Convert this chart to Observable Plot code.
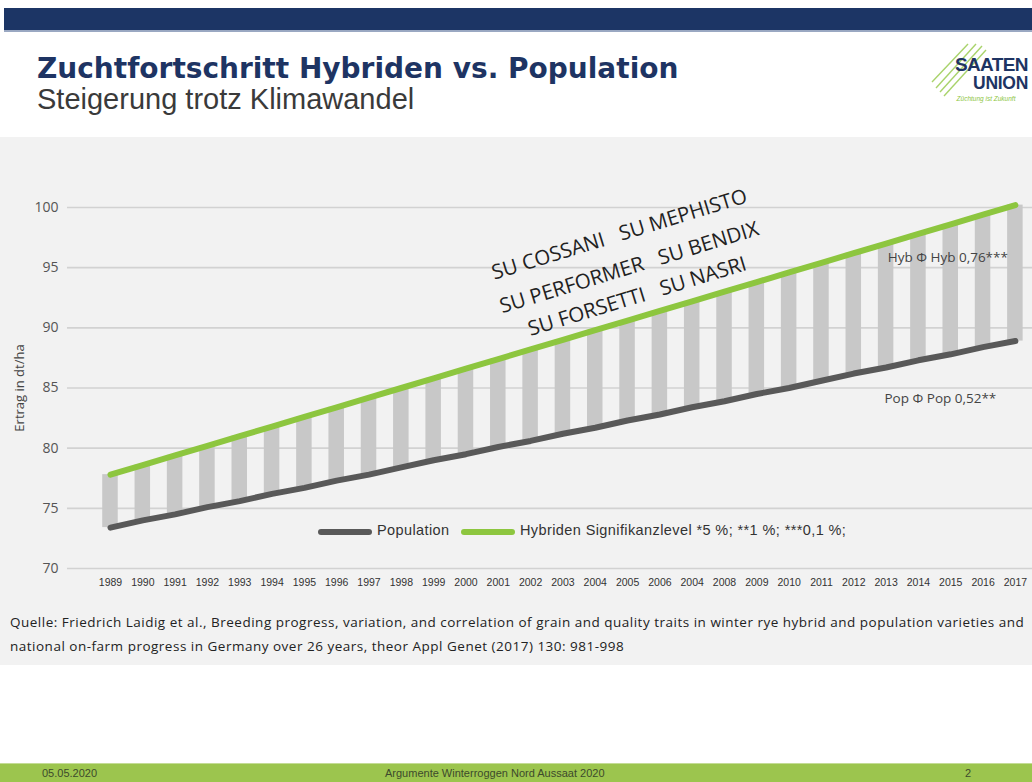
<!DOCTYPE html>
<html><head><meta charset="utf-8">
<script src="https://cdn.jsdelivr.net/npm/d3@7"></script>
<script src="https://cdn.jsdelivr.net/npm/@observablehq/plot@0.6"></script>
<style>
html,body{margin:0;padding:0;}
body{width:1032px;height:782px;position:relative;overflow:hidden;background:#fff;font-family:"Liberation Sans",Arial,sans-serif;}
#topbar{position:absolute;left:4px;top:8px;width:1028px;height:22px;background:#1c3565;border-bottom:2px solid #9aa8c2;}
#title{position:absolute;left:37px;top:54px;font-family:"DejaVu Sans",sans-serif;font-weight:bold;font-size:28px;line-height:29px;color:#1e3463;white-space:nowrap;}
#subtitle{position:absolute;left:37px;top:85px;font-size:29px;line-height:29px;color:#3a3a3a;white-space:nowrap;}
#panel{position:absolute;left:0;top:137px;width:1032px;height:528px;background:#f2f2f2;}
#chart{position:absolute;left:0;top:140px;}
#legend{position:absolute;top:521px;left:318px;height:20px;font-family:"Liberation Sans",sans-serif;font-size:14.5px;letter-spacing:0.4px;color:#333;white-space:nowrap;}
#legend span{position:absolute;top:1px;}
#legend i{position:absolute;top:8px;width:54px;height:6px;border-radius:3px;}
#caption{position:absolute;left:10px;top:610px;font-family:"Open Sans",Lato,sans-serif;font-size:13.5px;letter-spacing:0.5px;color:#222;line-height:24px;white-space:nowrap;}
#footer{position:absolute;left:0;top:763px;width:1032px;height:19px;background:#9cc54e;border-top:1px solid #c4dc95;font-family:"Liberation Sans Narrow","Liberation Sans",sans-serif;font-size:11px;color:#3d4a2c;}
#footer span{position:absolute;top:3px;}
#logo{position:absolute;left:930px;top:38px;width:100px;height:70px;}
</style></head>
<body>
<div id="topbar"></div>
<div id="title">Zuchtfortschritt Hybriden vs. Population</div>
<div id="subtitle">Steigerung trotz Klimawandel</div>
<svg id="logo" viewBox="0 0 100 70" width="100" height="70">
  <g stroke="#a9d36b" stroke-width="1.4">
    <line x1="6" y1="50" x2="46" y2="6"/><line x1="10" y1="54" x2="52" y2="8"/>
    <line x1="14" y1="58" x2="56" y2="12"/><line x1="2" y1="44" x2="38" y2="6"/>
  </g>
  <text x="98" y="33" text-anchor="end" font-family="Liberation Sans" font-weight="bold" font-size="19" fill="#1e3463" letter-spacing="-0.6">SAATEN</text>
  <text x="98" y="51" text-anchor="end" font-family="Liberation Sans" font-weight="bold" font-size="17.5" fill="#1e3463" letter-spacing="-0.3">UNION</text>
  <text x="56" y="63" text-anchor="middle" font-family="Liberation Sans" font-style="italic" font-size="6.5" fill="#8dc63f">Züchtung ist Zukunft</text>
</svg>
<div id="panel"></div>
<div id="chart"></div>
<div id="legend">
  <i style="left:0;background:#595959"></i><span style="left:59px">Population</span>
  <i style="left:143px;background:#8dc63f"></i><span style="left:202px">Hybriden Signifikanzlevel *5 %; **1 %; ***0,1 %;</span>
</div>
<div id="caption">Quelle: Friedrich Laidig et al., Breeding progress, variation, and correlation of grain and quality traits in winter rye hybrid and population varieties and<br>national on-farm progress in Germany over 26 years, theor Appl Genet (2017) 130: 981-998</div>
<div id="footer"><span style="left:42px">05.05.2020</span><span style="left:385px">Argumente Winterroggen Nord Aussaat 2020</span><span style="left:965px">2</span></div>
<script>
const years = [1989,1990,1991,1992,1993,1994,1995,1996,1997,1998,1999,2000,2001,2002,2003,2004,2005,2006,2007,2008,2009,2010,2011,2012,2013,2014,2015,2016,2017];
const tickLabels = ["1989","1990","1991","1992","1993","1994","1995","1996","1997","1998","1999","2000","2001","2002","2003","2004","2005","2006","2004","2008","2009","2010","2011","2012","2013","2014","2015","2016","2017"];
const hybrid = [77.8,78.6,79.4,80.2,81.0,81.8,82.6,83.4,84.2,85.0,85.8,86.6,87.4,88.2,89.0,89.8,90.6,91.4,92.2,93.0,93.8,94.6,95.4,96.2,97.0,97.8,98.6,99.4,100.2];
const population = [73.4,74.0,74.5,75.1,75.6,76.2,76.7,77.3,77.8,78.4,79.0,79.5,80.1,80.6,81.2,81.7,82.3,82.8,83.4,83.9,84.5,85.0,85.6,86.2,86.7,87.3,87.8,88.4,88.9];
const yTicks = [70,75,80,85,90,95,100];
const cultivars = ["SU COSSANI\u00a0\u00a0\u00a0SU MEPHISTO","SU PERFORMER\u00a0\u00a0\u00a0SU BENDIX","SU FORSETTI\u00a0\u00a0\u00a0SU NASRI"];
const cultivarX = [2004.75,2005.05,2005.3];
const cultivarY = [97.75,95.0,92.6];
const notes = ["Hyb \u03a6 Hyb 0,76***","Pop \u03a6 Pop 0,52**"];
const noteX = [2013.05,2012.95];
const noteY = [95.8,84.1];

const data = years.map((year,i)=>({year, hyb:hybrid[i], pop:population[i]}));
const tickText = d => tickLabels[years.indexOf(d)];

const chart = Plot.plot({
  width:1032, height:458,
  marginLeft:67, marginRight:0, marginTop:67, marginBottom:30,
  style:{background:"transparent", fontFamily:"'Open Sans', sans-serif", overflow:"visible"},
  x:{type:"linear", domain:[1987.67,2017.53]},
  y:{domain:[70,100]},
  marks:[
    Plot.gridY(yTicks,{stroke:"#d2d2d2", strokeOpacity:1, strokeWidth:1.6}),
    Plot.axisY(yTicks,{tickSize:0, tickPadding:9, fontSize:14, fill:"#555", label:null}),
    Plot.axisX(years,{tickSize:0, tickPadding:10, fontSize:10.5, fill:"#333", fontFamily:"'Liberation Sans',sans-serif", tickFormat:tickText, label:null}),
    Plot.text(["Ertrag in dt/ha"],{frameAnchor:"left", textAnchor:"middle", rotate:-90, dx:-48, fontSize:13, fill:"#444"}),
    Plot.rectY(data,{x1:d=>d.year-0.24, x2:d=>d.year+0.24, y1:"pop", y2:"hyb", fill:"#c8c8c8"}),
    Plot.line(data,{x:"year", y:"pop", stroke:"#595959", strokeWidth:6, strokeLinecap:"round"}),
    Plot.line(data,{x:"year", y:"hyb", stroke:"#8dc63f", strokeWidth:6, strokeLinecap:"round"}),
    Plot.text(cultivars,{x:(d,i)=>cultivarX[i], y:(d,i)=>cultivarY[i], text:d=>d, rotate:-17, fontSize:20.5, fill:"#222", fontFamily:"'Open Sans', sans-serif"}),
    Plot.text(notes,{x:(d,i)=>noteX[i], y:(d,i)=>noteY[i], text:d=>d, textAnchor:"start", fontSize:13.5, fill:"#444"})
  ]
});
document.getElementById("chart").appendChild(chart);
</script>
</body></html>
